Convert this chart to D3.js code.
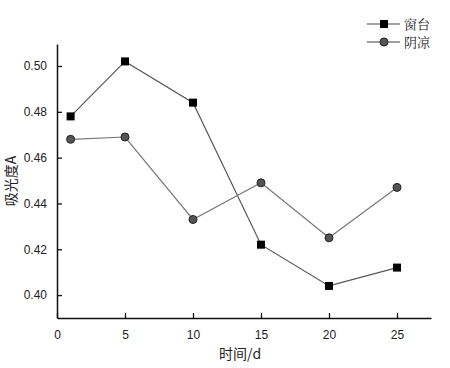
<!DOCTYPE html>
<html><head><meta charset="utf-8">
<script src="https://cdn.jsdelivr.net/npm/d3@7/dist/d3.min.js"></script>
<style>body{margin:0;background:#fff}</style>
</head><body><svg id="c" width="450" height="368"></svg>
<script>
const days = [1, 5, 10, 15, 20, 25];
const windowsill = [0.478, 0.502, 0.484, 0.422, 0.404, 0.412];
const shade = [0.468, 0.469, 0.433, 0.449, 0.425, 0.447];
const xTicks = [0, 5, 10, 15, 20, 25];
const yTicks = [0.40, 0.42, 0.44, 0.46, 0.48, 0.50];
const seriesNames = ["窗台", "阴凉"];

const svg = d3.select("#c");
const x = d3.scaleLinear().domain([0, 27.5]).range([57, 431]);
const y = d3.scaleLinear().domain([0.39, 0.5096]).range([318, 44]);
const font = "Arial, 'Liberation Sans', sans-serif";

const xa = svg.append("g").attr("transform", "translate(0,318)")
  .call(d3.axisBottom(x).tickValues(xTicks).tickSizeInner(-5).tickSizeOuter(0).tickPadding(12));
const ya = svg.append("g").attr("transform", "translate(57,0)")
  .call(d3.axisLeft(y).tickValues(yTicks).tickSizeInner(-5).tickSizeOuter(0).tickPadding(10).tickFormat(d3.format(".2f")));
[xa, ya].forEach(a => {
  a.select(".domain").attr("stroke", "#111").attr("stroke-width", 1.5);
  a.selectAll(".tick line").attr("stroke", "#111").attr("stroke-width", 1.3);
  a.selectAll(".tick text").attr("font-family", font).attr("font-size", 12).attr("fill", "#222");
});

const line = d3.line().x((d, i) => x(days[i])).y(d => y(d));
svg.append("path").datum(windowsill).attr("d", line).attr("fill", "none").attr("stroke", "#555").attr("stroke-width", 1.2);
svg.append("path").datum(shade).attr("d", line).attr("fill", "none").attr("stroke", "#777").attr("stroke-width", 1.2);

svg.selectAll(".sq").data(windowsill).join("rect")
  .attr("x", (d, i) => x(days[i]) - 4).attr("y", d => y(d) - 4)
  .attr("width", 8).attr("height", 8).attr("fill", "#000");
svg.selectAll(".ci").data(shade).join("circle")
  .attr("cx", (d, i) => x(days[i])).attr("cy", d => y(d)).attr("r", 4)
  .attr("fill", "#555").attr("stroke", "#222").attr("stroke-width", 1);

// legend
const lg = svg.append("g");
[0, 1].forEach(i => {
  const ly = 24 + i * 18;
  lg.append("line").attr("x1", 367).attr("x2", 400).attr("y1", ly).attr("y2", ly).attr("stroke", "#444").attr("stroke-width", 1.2);
  if (i === 0) lg.append("rect").attr("x", 380).attr("y", ly - 4).attr("width", 8).attr("height", 8).attr("fill", "#000");
  else lg.append("circle").attr("cx", 384).attr("cy", ly).attr("r", 4).attr("fill", "#555").attr("stroke", "#222");
  lg.append("text").attr("x", 404).attr("y", ly).attr("dy", "0.35em").text(seriesNames[i])
    .attr("font-family", "'Noto Serif CJK SC','Noto Sans CJK SC',sans-serif").attr("font-size", 13).attr("fill", "#222");
});

svg.append("text").attr("x", 240).attr("y", 359).attr("text-anchor", "middle")
  .attr("font-family", "'Noto Sans CJK SC', sans-serif").attr("font-size", 14).attr("fill", "#222").text("时间/d");
svg.append("text").attr("transform", "translate(16,181) rotate(-90)").attr("text-anchor", "middle")
  .attr("font-family", "'Noto Sans CJK SC', sans-serif").attr("font-size", 14).attr("fill", "#222").text("吸光度A");
</script></body></html>
